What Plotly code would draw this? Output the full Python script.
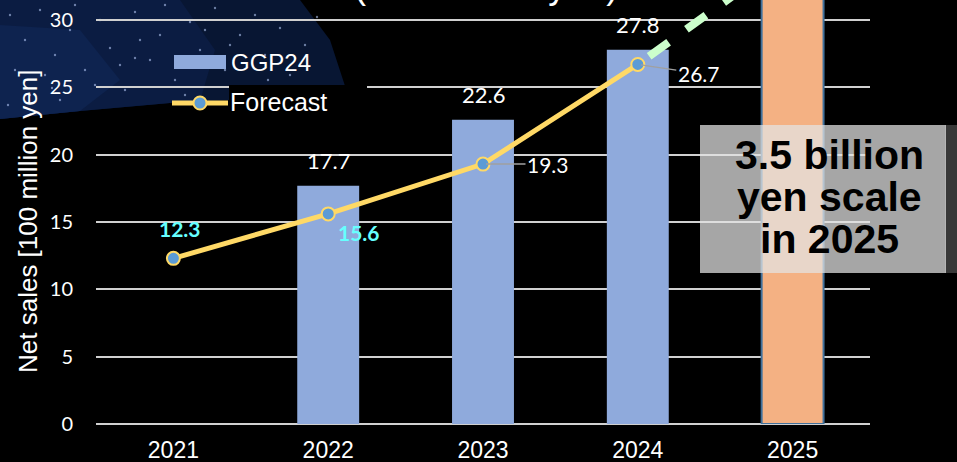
import plotly.graph_objects as go

# ---------------- data ----------------
years = ["2021", "2022", "2023", "2024", "2025"]
ggp24_years = ["2022", "2023", "2024"]
ggp24_values = [17.7, 22.6, 27.8]
target_year = ["2025"]
target_value = [35.0]
forecast_years = ["2021", "2022", "2023", "2024"]
forecast_values = [12.3, 15.6, 19.3, 26.7]
trend_years = ["2024", "2025"]
trend_values = [26.7, 35.0]
y_ticks = [0, 5, 10, 15, 20, 25, 30]
series_names = ["GGP24", "Forecast"]
y_title = "Net sales [100 million yen]"
chart_title = "Net Sales (100 million yen)"
callout_lines = ["3.5 billion", "yen scale", "in 2025"]

# ---------------- layout geometry ----------------
W, H = 957, 462
L, R, T, B = 96, 870, 0, 424  # plot area in pixels


def X(px):
    return (px - L) / (R - L)


def Y(py):
    return (B - py) / (B - T)


def path(points):
    return "M " + " L ".join(f"{X(a):.5f},{Y(b):.5f}" for a, b in points) + " Z"


def idx(yr):
    return years.index(yr)


BAR_BLUE = "#8FAADC"
ORANGE = "#F4B183"
YELLOW = "#FFD966"
MARK_BLUE = "#5B9BD5"
GREEN = "#CCFFCC"
GRID = "#D0D0D0"
ARIAL = "Liberation Sans, Arial"

fig = go.Figure()

fig.add_trace(go.Bar(x=ggp24_years, y=ggp24_values, name=series_names[0],
                     marker=dict(color=BAR_BLUE, line=dict(width=0)),
                     width=0.4, showlegend=False))
fig.add_trace(go.Bar(x=target_year, y=target_value, name="2025 target",
                     marker=dict(color=ORANGE, line=dict(color="#41719C", width=2)),
                     width=0.4, showlegend=False))
fig.add_trace(go.Scatter(x=trend_years, y=trend_values, mode="lines",
                         line=dict(color=GREEN, width=8, dash="0px,14px,24px,8px"),
                         showlegend=False, hoverinfo="skip"))
fig.add_trace(go.Scatter(x=forecast_years, y=forecast_values, name=series_names[1],
                         mode="lines+markers",
                         line=dict(color=YELLOW, width=5),
                         marker=dict(size=13, color=MARK_BLUE,
                                     line=dict(color=YELLOW, width=2)),
                         showlegend=False))

shapes = []
# starry-sky backdrop (top-left), layered for a soft gradient
shapes.append(dict(type="path", xref="paper", yref="paper", layer="below",
                   path=path([(0, 0), (300, 0), (330, 40), (345, 86), (229, 86),
                              (229, 100), (170, 103), (80, 111), (0, 119)]),
                   fillcolor="#081633", line=dict(width=0)))
shapes.append(dict(type="path", xref="paper", yref="paper", layer="below",
                   path=path([(0, 0), (180, 0), (215, 50), (200, 101), (170, 103),
                              (80, 111), (0, 119)]),
                   fillcolor="#0b1c42", line=dict(width=0)))
shapes.append(dict(type="path", xref="paper", yref="paper", layer="below",
                   path=path([(0, 25), (80, 30), (120, 80), (80, 111), (0, 119)]),
                   fillcolor="#0e234f", line=dict(width=0)))
# faint stars (decoration)
stars = [(10, 15), (25, 40), (40, 10), (55, 55), (70, 30), (85, 70), (100, 20),
         (110, 48), (125, 90), (135, 12), (150, 60), (160, 35), (175, 80), (190, 22),
         (200, 50), (215, 8), (225, 70), (240, 35), (255, 15), (265, 55), (280, 28),
         (290, 75), (305, 45), (317, 17), (30, 95), (60, 100), (95, 85), (140, 40),
         (185, 95), (230, 45), (120, 65), (45, 75), (15, 70), (75, 5), (165, 5),
         (8, 105), (52, 88), (205, 30), (268, 80), (135, 58)]
for sx, sy in stars:
    shapes.append(dict(type="circle", xref="paper", yref="paper", layer="below",
                       x0=X(sx - 1.2), x1=X(sx + 1.2), y0=Y(sy + 1.2), y1=Y(sy - 1.2),
                       fillcolor="rgba(190,210,255,0.55)", line=dict(width=0)))

# black patch behind the "Forecast" legend text
shapes.append(dict(type="rect", xref="paper", yref="paper", layer="above",
                   x0=X(229), x1=X(367), y0=Y(120), y1=Y(85),
                   fillcolor="black", line=dict(width=0)))
# legend swatches
shapes.append(dict(type="rect", xref="paper", yref="paper", layer="above",
                   x0=X(174), x1=X(226), y0=Y(69), y1=Y(55),
                   fillcolor=BAR_BLUE, line=dict(width=0)))
shapes.append(dict(type="line", xref="paper", yref="paper", layer="above",
                   x0=X(172), x1=X(228), y0=Y(103), y1=Y(103),
                   line=dict(color=YELLOW, width=5)))
shapes.append(dict(type="circle", xref="paper", yref="paper", layer="above",
                   x0=X(193.5), x1=X(206.5), y0=Y(109.5), y1=Y(96.5),
                   fillcolor=MARK_BLUE, line=dict(color=YELLOW, width=2)))
# callout box with a soft right shadow
shapes.append(dict(type="rect", xref="paper", yref="paper", layer="above",
                   x0=X(945), x1=X(957), y0=Y(273), y1=Y(125),
                   fillcolor="rgba(70,70,70,0.8)", line=dict(width=0)))
shapes.append(dict(type="rect", xref="paper", yref="paper", layer="above",
                   x0=X(700), x1=X(946), y0=Y(273), y1=Y(125),
                   fillcolor="rgba(227,227,227,0.73)", line=dict(width=0)))

annotations = []
# partial title cut at the top edge
annotations.append(dict(xref="paper", yref="paper", x=X(620), y=1, xanchor="right",
                        yanchor="middle", yshift=15, showarrow=False, text=chart_title,
                        font=dict(family=ARIAL, size=36, color="white")))
# y-axis title
annotations.append(dict(xref="paper", yref="paper", x=X(28), y=Y(222), textangle=-90,
                        xanchor="center", yanchor="middle",
                        showarrow=False, text=y_title,
                        font=dict(family=ARIAL, size=26, color="white")))
# legend texts
annotations.append(dict(xref="paper", yref="paper", x=X(229), y=Y(62), xanchor="left",
                        yanchor="middle", showarrow=False, text=series_names[0],
                        font=dict(family=ARIAL, size=24, color="white")))
annotations.append(dict(xref="paper", yref="paper", x=X(228), y=Y(102), xanchor="left",
                        yanchor="middle", showarrow=False, text=series_names[1],
                        font=dict(family=ARIAL, size=25, color="white")))
# bar value labels
for yr, v in zip(ggp24_years, ggp24_values):
    annotations.append(dict(x=idx(yr), y=v, yanchor="bottom", yshift=10, showarrow=False,
                            text=f"{v:.1f}",
                            font=dict(family="Lato", size=22, color="white")))
# forecast labels
fc_label_style = [
    dict(xshift=7, yshift=30, color="#66FFFF", bold=True, arrow=False),
    dict(xshift=31, yshift=-19, color="#66FFFF", bold=True, arrow=False),
    dict(ax=65, ay=0, color="white", bold=False, arrow=True),
    dict(ax=61, ay=9, color="white", bold=False, arrow=True),
]
for yr, v, st in zip(forecast_years, forecast_values, fc_label_style):
    txt = f"<b>{v:.1f}</b>" if st["bold"] else f"{v:.1f}"
    a = dict(x=idx(yr), y=v, text=txt, font=dict(family="Lato", size=21, color=st["color"]))
    if st["arrow"]:
        a.update(showarrow=True, ax=st["ax"], ay=st["ay"], arrowhead=0,
                 arrowcolor="#A0A0A0", arrowwidth=1.5, standoff=3)
    else:
        a.update(showarrow=False, xshift=st["xshift"], yshift=st["yshift"])
    annotations.append(a)
# callout text
for i, line in enumerate(callout_lines):
    annotations.append(dict(xref="paper", yref="paper", x=X(829), y=Y(155 + 42 * i),
                            xanchor="center", yanchor="middle",
                            showarrow=False, text=f"<b>{line}</b>",
                            font=dict(family=ARIAL, size=41, color="black")))

fig.update_layout(
    width=W, height=H,
    margin=dict(l=L, r=W - R, t=T, b=H - B, pad=0),
    paper_bgcolor="black", plot_bgcolor="rgba(0,0,0,0)",
    showlegend=False,
    shapes=shapes, annotations=annotations,
    xaxis=dict(type="category", categoryorder="array", categoryarray=years,
               range=[-0.5, len(years) - 0.5],
               showgrid=False, showline=False, ticks="", zeroline=False,
               tickfont=dict(family=ARIAL, size=23, color="white"),
               ticklabelstandoff=10),
    yaxis=dict(range=[0, (B - T) / ((B - 20) / 30)], tickvals=y_ticks,
               showgrid=True, gridcolor=GRID, gridwidth=1.5, zeroline=True,
               zerolinecolor=GRID, zerolinewidth=1.5, showline=False, ticks="",
               tickfont=dict(family="Lato", size=20, color="white"),
               ticklabelstandoff=22),
)

fig.write_html("out.html")
